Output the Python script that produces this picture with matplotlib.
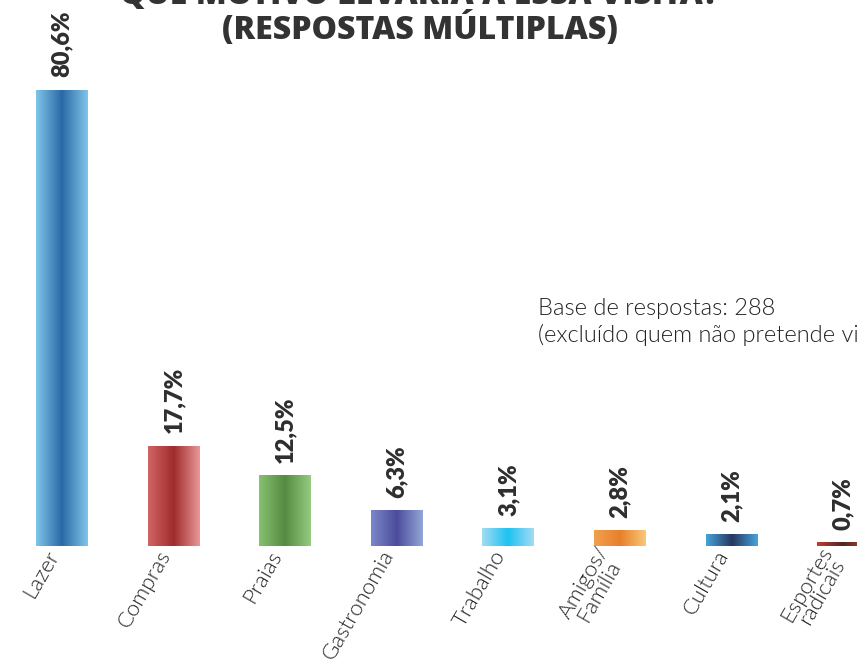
import matplotlib
matplotlib.use("Agg")
import matplotlib.pyplot as plt
import matplotlib.transforms as mtransforms
import numpy as np
from matplotlib.colors import LinearSegmentedColormap

categories = ["Lazer", "Compras", "Praias", "Gastronomia", "Trabalho",
              "Amigos/\nFamília", "Cultura", "Esportes\nradicais"]
values = [80.6, 17.7, 12.5, 6.3, 3.1, 2.8, 2.1, 0.7]
value_labels = ["80,6%", "17,7%", "12,5%", "6,3%", "3,1%", "2,8%", "2,1%", "0,7%"]

# gradient colours (left edge, centre, right edge)
grads = [
    ("#7fc6ea", "#2b69a6", "#7fc6ea"),
    ("#d06464", "#a02c2c", "#ea9898"),
    ("#86c270", "#558a42", "#94cc80"),
    ("#7a88c8", "#4c4c9c", "#93a6d6"),
    ("#a2dcf2", "#1ec2f2", "#a2dcf2"),
    ("#f0a050", "#e8802a", "#f8c878"),
    ("#45a4dc", "#28385e", "#45a4dc"),
    ("#c83c2c", "#4a2828", "#c84224"),
]

fig = plt.figure(figsize=(8.57, 6.61), dpi=100)
ax = fig.add_axes([0, 115 / 661, 1, 546 / 661])
x = np.arange(len(categories))
bars = ax.bar(x, values, width=0.465, color="none")
ax.set_xlim(-0.556, 7.124)
ax.set_ylim(0, 96.5)

for b, g in zip(bars, grads):
    cmap = LinearSegmentedColormap.from_list("g", list(g))
    grad = np.linspace(0, 1, 256).reshape(1, -1)
    x0, y0 = b.get_x(), b.get_y()
    w, h = b.get_width(), b.get_height()
    im = ax.imshow(grad, cmap=cmap, extent=[x0, x0 + w, y0, y0 + h],
                   aspect="auto", origin="lower", zorder=2)
    im.set_clip_path(b)

for xi, v, lab in zip(x, values, value_labels):
    ax.annotate(lab, (xi, v), xytext=(0, 9), textcoords="offset points",
                rotation=90, ha="center", va="bottom", fontsize=17,
                fontweight="heavy", color="#2e2e2e", family="Lato")

for s in ax.spines.values():
    s.set_visible(False)
ax.set_yticks([])
ax.set_xticks(x)
ax.set_xticklabels(categories, rotation=60, ha="right", va="center",
                   rotation_mode="anchor", fontsize=16, color="#222222",
                   family="Lato", fontweight=300, linespacing=0.8,
                   multialignment="center")
ax.tick_params(axis="x", length=0, pad=4)
offset = mtransforms.ScaledTranslation(-8 / 100, 0, fig.dpi_scale_trans)
for t in ax.get_xticklabels():
    t.set_transform(t.get_transform() + offset)
ax.set_autoscale_on(False)

fig.text(0.49, 1.0 + 4 / 661, "QUE MOTIVO LEVARIA A ESSA VISITA?", ha="center",
         va="center", fontsize=23, fontweight="heavy", color="#333333", family="Open Sans")
fig.text(0.49, 1 - 30 / 661, "(RESPOSTAS MÚLTIPLAS)", ha="center",
         va="center", fontsize=23, fontweight="heavy", color="#333333", family="Open Sans")

fig.text(538 / 857, 1 - 298 / 661,
         "Base de respostas: 288\n(excluído quem não pretende visitar)",
         ha="left", va="top", fontsize=17, color="#222222", family="Lato",
         fontweight=300, linespacing=1.25)

fig.savefig("out.png", dpi=100)
